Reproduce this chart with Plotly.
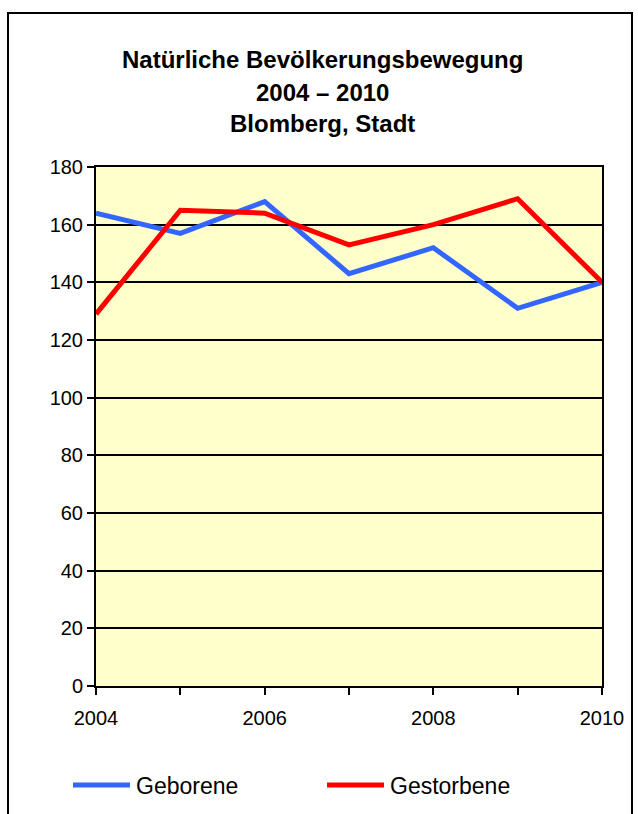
import plotly.graph_objects as go

# --- DATEN ---
jahre = [2004, 2005, 2006, 2007, 2008, 2009, 2010]
geborene = [164, 157, 168, 143, 152, 131, 140]
gestorbene = [129, 165, 164, 153, 160, 169, 140]

x_ticktext = ["2004", "", "2006", "", "2008", "", "2010"]
y_ticks = [0, 20, 40, 60, 80, 100, 120, 140, 160, 180]

titel_zeilen = ["Natürliche Bevölkerungsbewegung", "2004 – 2010", "Blomberg, Stadt"]

FONT = "Liberation Sans, Arial, sans-serif"
BLAU = "#3366FF"
ROT = "#FF0000"

W, H = 638, 814
L, R, T, B = 96, 36, 167, 128
plot_w = W - L - R
plot_h = H - T - B


def px_x(px):
    return (px - L) / plot_w


def px_y(py):
    return (H - B - py) / plot_h


serien = [("Geborene", geborene, BLAU, 73), ("Gestorbene", gestorbene, ROT, 327)]

fig = go.Figure()
for name, werte, farbe, leg_x in serien:
    fig.add_trace(go.Scatter(x=jahre, y=werte, mode="lines", name=name,
                             line=dict(color=farbe, width=5), showlegend=False))
    # Legende von Hand (längere Linien wie im Original)
    fig.add_shape(type="line", xref="paper", yref="paper",
                  x0=px_x(leg_x), x1=px_x(leg_x + 57), y0=px_y(785), y1=px_y(785),
                  line=dict(color=farbe, width=5))
    fig.add_annotation(text=name, xref="paper", yref="paper",
                       x=px_x(leg_x + 61), y=px_y(786), showarrow=False,
                       xanchor="left", yanchor="middle",
                       font=dict(family=FONT, size=23, color="black"))

# Titel als einzelne Zeilen (Zeilenabstand wie im Original)
for zeile, py in zip(titel_zeilen, [60, 92, 124]):
    fig.add_annotation(text=f"<b>{zeile}</b>", xref="paper", yref="paper",
                       x=px_x(W / 2 + 3), y=px_y(py), showarrow=False,
                       xanchor="center", yanchor="middle",
                       font=dict(family=FONT, size=24, color="black"))

# äußerer Rahmen
fig.add_shape(type="rect", xref="paper", yref="paper",
              x0=px_x(8), x1=px_x(632), y0=px_y(840), y1=px_y(13),
              line=dict(color="black", width=2), fillcolor="rgba(0,0,0,0)", layer="below")

fig.update_layout(
    width=W, height=H,
    margin=dict(l=L, r=R, t=T, b=B),
    paper_bgcolor="white", plot_bgcolor="#FFFFCC",
    font=dict(family=FONT, size=20, color="black"),
    xaxis=dict(range=[2004, 2010], tickvals=jahre, ticktext=x_ticktext,
               showgrid=False, zeroline=False, showline=True, linecolor="black",
               linewidth=2, mirror=True, ticks="outside", ticklen=7, tickwidth=2,
               tickcolor="black", ticklabelstandoff=6),
    yaxis=dict(range=[0, 180], tickvals=y_ticks, showgrid=True, gridcolor="black",
               gridwidth=2, zeroline=False, showline=True, linecolor="black",
               linewidth=2, mirror=True, ticks="outside", ticklen=7, tickwidth=2,
               tickcolor="black"),
)

fig.write_html("out.html", config={"displayModeBar": False},
               post_script="document.body.style.margin='0';")
